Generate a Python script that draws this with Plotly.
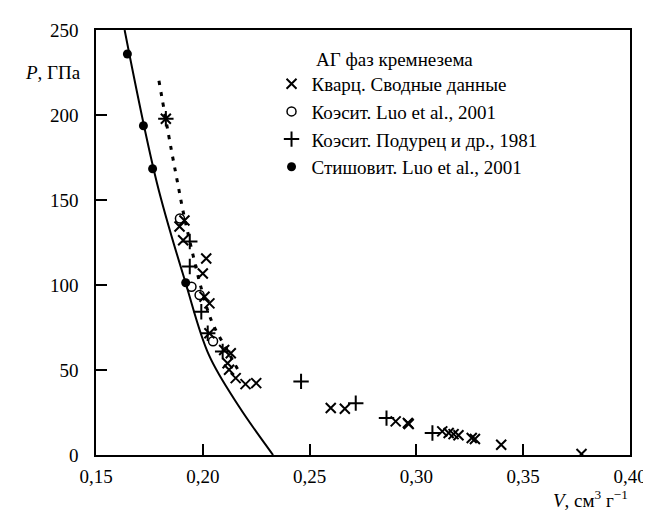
import plotly.graph_objects as go

# Quartz (summary data)
quartz_v = [0.1827, 0.1914, 0.1891, 0.1908, 0.2016, 0.2000, 0.2008, 0.2031, 0.2031,
            0.2100, 0.2131, 0.2116, 0.2123, 0.2154, 0.2200, 0.2250, 0.2599, 0.2665,
            0.2903, 0.2960, 0.2964, 0.3121, 0.3151, 0.3174, 0.3197, 0.3259, 0.3274,
            0.3397, 0.3773]
quartz_p = [197.8, 137.9, 134.4, 126.3, 115.6, 106.8, 93.1, 89.2, 71.6,
            61.8, 59.9, 54.0, 50.1, 45.2, 41.7, 42.3, 27.6, 27.2,
            19.8, 18.8, 18.2, 13.9, 12.9, 12.3, 11.6, 10.0, 9.4,
            6.0, 0.6]

# Coesite, Luo et al., 2001
coes_luo_v = [0.1893, 0.1947, 0.1985, 0.2048]
coes_luo_p = [139.1, 99.0, 94.1, 66.9]

# Coesite, Podurets et al., 1981
coes_pod_v = [0.1827, 0.1939, 0.1939, 0.1993, 0.2023, 0.2093, 0.2460, 0.2716, 0.2860, 0.3075]
coes_pod_p = [197.8, 125.6, 110.9, 84.3, 71.6, 60.9, 43.3, 30.5, 21.7, 12.9]

# Stishovite, Luo et al., 2001
stish_v = [0.1647, 0.1722, 0.1765, 0.1920]
stish_p = [235.9, 193.7, 168.4, 101.3]

# Stishovite curve (solid)
curve_v = [0.1634, 0.1785, 0.1919, 0.2029, 0.2168, 0.2329]
curve_p = [250.0, 160.2, 101.5, 58.7, 28.8, 0.0]

# Coesite curve (dotted)
dot_v = [0.17947, 0.1850, 0.1881, 0.1910, 0.1947, 0.1983, 0.2020, 0.2052, 0.2117, 0.2168]
dot_p = [220.1, 181.3, 160.8, 142.0, 121.5, 102.7, 86.2, 75.7, 61.0, 49.3]

x_ticks = [0.15, 0.20, 0.25, 0.30, 0.35, 0.40]
y_ticks = [0, 50, 100, 150, 200, 250]

FONT = "Liberation Serif"
FS = 19

fig = go.Figure()
fig.add_trace(go.Scatter(x=curve_v, y=curve_p, mode="lines", line=dict(color="black", width=2, shape="spline"),
                         showlegend=False, hoverinfo="skip"))
fig.add_trace(go.Scatter(x=dot_v, y=dot_p, mode="lines",
                         line=dict(color="black", width=3, dash="4px,7px", shape="spline"),
                         showlegend=False, hoverinfo="skip"))
fig.add_trace(go.Scatter(x=quartz_v, y=quartz_p, mode="markers", name="Кварц. Сводные данные",
                         marker=dict(symbol="x-thin-open", size=10, color="black", line=dict(color="black", width=2))))
fig.add_trace(go.Scatter(x=coes_luo_v, y=coes_luo_p, mode="markers", name="Коэсит. Luo et al., 2001",
                         marker=dict(symbol="circle-open", size=9, color="black", line=dict(color="black", width=1.5))))
fig.add_trace(go.Scatter(x=coes_pod_v, y=coes_pod_p, mode="markers", name="Коэсит. Подурец и др., 1981",
                         marker=dict(symbol="cross-thin-open", size=11, color="black", line=dict(color="black", width=2))))
fig.add_trace(go.Scatter(x=stish_v, y=stish_p, mode="markers", name="Стишовит. Luo et al., 2001",
                         marker=dict(symbol="circle", size=9, color="black")))

axis_common = dict(showgrid=False, zeroline=False, showline=True, linecolor="black", linewidth=1.5,
                   mirror=True, ticks="inside", ticklen=11, tickwidth=1.5, tickcolor="black",
                   tickfont=dict(family=FONT, size=FS, color="black"))

fig.update_layout(
    width=651, height=510,
    margin=dict(l=88, r=20, t=21, b=63),
    paper_bgcolor="white", plot_bgcolor="white",
    separators=", ",
    font=dict(family=FONT, size=FS, color="black"),
    xaxis=dict(range=[0.15, 0.40], tickvals=x_ticks, tickformat=".2f", ticklabelstandoff=3, **axis_common),
    yaxis=dict(range=[0, 250], tickvals=y_ticks, tickformat="d", ticklabelstandoff=12, **axis_common),
    legend=dict(x=0.3287, y=0.918, xanchor="left", yanchor="top", bgcolor="rgba(0,0,0,0)",
                font=dict(family=FONT, size=FS, color="black"), tracegroupgap=0),
    annotations=[
        dict(text="АГ фаз кремнезема", xref="paper", yref="paper", x=0.4088, y=0.9296,
             xanchor="left", yanchor="middle", showarrow=False, font=dict(family=FONT, size=FS)),
        dict(text="<i>P</i>, ГПа", xref="paper", yref="paper", x=-0.024, y=0.901,
             xanchor="right", yanchor="middle", showarrow=False, font=dict(family=FONT, size=FS)),
        dict(text="<i>V</i>, см<sup>3</sup> г<sup>−1</sup>", xref="paper", yref="paper", x=1.0, y=-0.103,
             xanchor="right", yanchor="middle", showarrow=False, font=dict(family=FONT, size=FS)),
    ],
)

fig.write_html("out.html")
